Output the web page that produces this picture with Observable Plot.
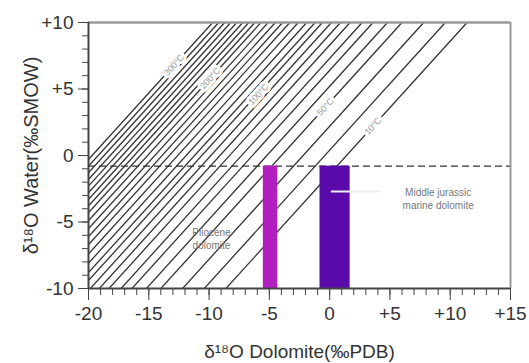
<!DOCTYPE html>
<html><head><meta charset="utf-8">
<script src="https://cdn.jsdelivr.net/npm/d3@7"></script>
<script src="https://cdn.jsdelivr.net/npm/@observablehq/plot@0.6"></script>
<style>body{margin:0;background:#fff} svg{display:block}</style>
</head><body><div id="chart"></div>
<script>
// ---- data ----
const xTicks = [-20, -15, -10, -5, 0, 5, 10, 15];
const xTickLabels = ["-20", "-15", "-10", "-5", "0", "+5", "+10", "+15"];
const yTicks = [-10, -5, 0, 5, 10];
const yTickLabels = ["-10", "-5", "0", "+5", "+10"];
const xMinorTicks = [-20,-19,-18,-17,-16,-15,-14,-13,-12,-11,-10,-9,-8,-7,-6,-5,-4,-3,-2,-1,0,1,2,3,4,5,6,7,8,9,10,11,12,13,14,15];
const yMinorTicks = [-10,-9,-8,-7,-6,-5,-4,-3,-2,-1,0,1,2,3,4,5,6,7,8,9,10];

// isotherms: x where each line meets y=+10 and y=-10
const isoTopX = [-9.7,-9.2,-8.7,-8.2,-7.7,-7.2,-6.7,-6.2,-5.7,-5.1,-4.5,-3.9,-3.3,-2.6,-1.9,-1.2,-0.6,0.15,0.9,1.7,2.7,3.6,4.8,6.0,7.8,9.6,11.4];
const isoBottomX = [-29.7,-29.2,-28.7,-28.2,-27.7,-27.2,-26.7,-26.2,-25.7,-25.1,-24.5,-23.9,-23.3,-22.6,-21.9,-21.2,-20.6,-19.85,-19.1,-18.3,-17.3,-16.4,-15.2,-14.0,-12.2,-10.4,-8.6];

const isoLabels = ["300°C", "200°C", "100°C", "50°C", "10°C"];
const isoLabelX = [-12.9, -9.9, -5.9, -0.35, 3.6];
const isoLabelY = [6.8, 5.8, 4.6, 3.65, 2.2];

const seawaterY = -0.8;

const barNames = ["Pliocene dolomite", "Middle jurassic marine dolomite"];
const barX1 = [-5.5, -0.8];
const barX2 = [-4.3, 1.7];
const barTop = [-0.8, -0.8];
const barBottom = [-10, -10];
const barColors = ["#b21fc0", "#5a0aa8"];

const noteText = ["Middle jurassic\nmarine dolomite", "Pliocene\ndolomite"];
const noteX = [9.0, -9.8];
const noteY = [-3.2, -6.2];

const leaderX1 = 0.1, leaderX2 = 4.2, leaderY = -2.7;

const xTitle = "δ¹⁸O Dolomite(‰PDB)";
const yTitle = "δ¹⁸O Water(‰SMOW)";

// ---- build tables ----
const isotherms = isoTopX.map((t, i) => ({x1: isoBottomX[i], y1: -10, x2: t, y2: 10}));
const labelsT = isoLabels.map((s, i) => ({s, x: isoLabelX[i], y: isoLabelY[i]}));
const bars = barNames.map((n, i) => ({n, x1: barX1[i], x2: barX2[i], y1: barBottom[i], y2: barTop[i], c: barColors[i]}));
const notes = noteText.map((s, i) => ({s, x: noteX[i], y: noteY[i]}));

const chart = Plot.plot({
  width: 529,
  height: 363,
  marginLeft: 88,
  marginRight: 19,
  marginTop: 22,
  marginBottom: 75,
  style: {fontFamily: "'Liberation Sans', Arial, sans-serif", color: "#333", background: "#fff"},
  x: {domain: [-20, 15]},
  y: {domain: [-10, 10]},
  marks: [
    Plot.link(isotherms, {x1: "x1", y1: "y1", x2: "x2", y2: "y2", stroke: "#333", strokeWidth: 1.3, clip: true}),
    Plot.text(labelsT, {x: "x", y: "y", text: "s", rotate: -47.8, fontSize: 9, fill: "#999", stroke: "white", strokeWidth: 6}),
    Plot.ruleY([seawaterY], {stroke: "#333", strokeWidth: 1.3, strokeDasharray: "7,4"}),
    Plot.rect(bars, {x1: "x1", x2: "x2", y1: "y1", y2: "y2", fill: "c"}),
    Plot.link([0], {x1: () => leaderX1, x2: () => leaderX2, y1: () => leaderY, y2: () => leaderY, stroke: "#eee", strokeWidth: 2}),
    Plot.text(notes, {x: "x", y: "y", text: "s", fontSize: 10, fill: "#777", lineHeight: 1.3}),
    Plot.ruleY([10], {stroke: "#999", strokeWidth: 2.5}),
    Plot.ruleX([15], {stroke: "#999", strokeWidth: 2}),
    Plot.axisX(xMinorTicks, {tickSize: 7, tickFormat: () => "", label: null, stroke: "#444"}),
    Plot.axisX(xTicks, {tickSize: 12, tickPadding: 6, fontSize: 19, label: null, stroke: "#444",
      tickFormat: d => xTickLabels[xTicks.indexOf(d)]}),
    Plot.axisY(yMinorTicks, {tickSize: 6, tickFormat: () => "", label: null, stroke: "#444"}),
    Plot.axisY(yTicks, {tickSize: 10, tickPadding: 5, fontSize: 19, label: null, stroke: "#444",
      tickFormat: d => yTickLabels[yTicks.indexOf(d)]}),
    Plot.ruleY([-10], {stroke: "#444", strokeWidth: 2}),
    Plot.ruleX([-20], {stroke: "#444", strokeWidth: 2}),
    Plot.text([xTitle], {frameAnchor: "bottom", dy: 69, lineAnchor: "bottom", textAnchor: "middle", fontSize: 19, fill: "#333"}),
    Plot.text([yTitle], {frameAnchor: "left", dx: -57, rotate: -90, textAnchor: "middle", lineAnchor: "middle", fontSize: 20, fill: "#333"})
  ]
});
document.getElementById("chart").append(chart);
</script>
</body></html>
